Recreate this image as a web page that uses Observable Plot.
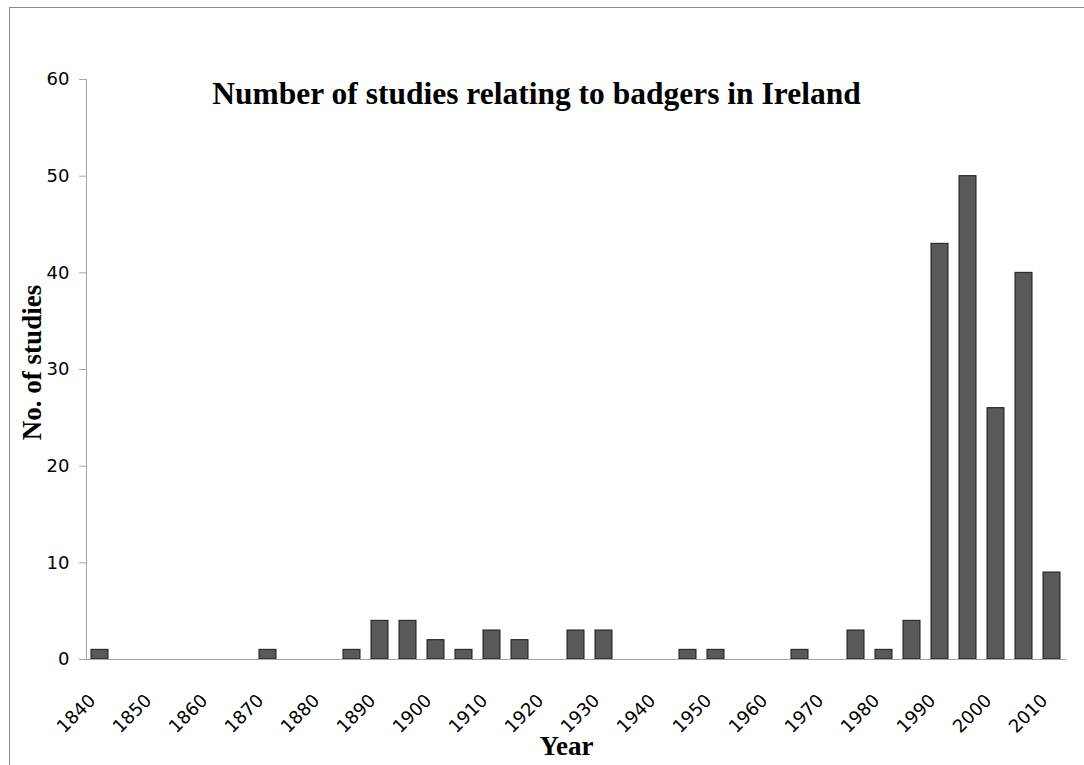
<!DOCTYPE html>
<html>
<head>
<meta charset="utf-8">
<script src="https://cdn.jsdelivr.net/npm/d3@7"></script>
<script src="https://cdn.jsdelivr.net/npm/@observablehq/plot@0.6"></script>
<style>
  html, body { margin: 0; padding: 0; background: #fff; }
  #wrap { position: relative; width: 1084px; height: 765px; overflow: hidden; }
  #border { position: absolute; left: 9px; top: 7px; width: 1200px; height: 900px;
            border-left: 1px solid #8c8c8c; border-top: 1px solid #8c8c8c; }
  #chart { position: absolute; left: 0; top: 0; }
</style>
</head>
<body>
<div id="wrap"><div id="border"></div><div id="chart"></div></div>
<script>
// Five-year bins (start year) and number of studies
const years = [1840,1845,1850,1855,1860,1865,1870,1875,1880,1885,1890,1895,1900,1905,1910,1915,1920,1925,1930,1935,1940,1945,1950,1955,1960,1965,1970,1975,1980,1985,1990,1995,2000,2005,2010];
const counts = [1,0,0,0,0,0,1,0,0,1,4,4,2,1,3,2,0,3,3,0,0,1,1,0,0,1,0,3,1,4,43,50,26,40,9];
const xTickLabels = [1840,1850,1860,1870,1880,1890,1900,1910,1920,1930,1940,1950,1960,1970,1980,1990,2000,2010];
const yTicks = [0,10,20,30,40,50,60];
const titleText = "Number of studies relating to badgers in Ireland";
const xLabel = "Year";
const yLabel = "No. of studies";

const data = years.map((y, i) => ({year: y, count: counts[i]}));

const serif = "'Liberation Serif', 'Times New Roman', serif";
const sans = "'DejaVu Sans', sans-serif";

const chart = Plot.plot({
  width: 1084,
  height: 765,
  marginLeft: 86,
  marginRight: 18,
  marginTop: 79,
  marginBottom: 106,
  style: {background: "transparent", overflow: "visible"},
  x: {domain: years, paddingInner: 0.39, paddingOuter: 0.195},
  y: {domain: [0, 60]},
  marks: [
    Plot.barY(data, {
      x: "year", y: "count",
      filter: d => d.count > 0,
      fill: "#595959", stroke: "#1a1a1a", strokeWidth: 1
    }),
    Plot.frame({anchor: "left", stroke: "#a6a6a6"}),
    Plot.ruleY([0], {stroke: "#a6a6a6", insetLeft: -7}),
    Plot.axisY({
      ticks: yTicks, tickSize: 7, tickPadding: 10,
      stroke: "#a6a6a6", fill: "#000",
      fontSize: 18, fontFamily: sans, label: null
    }),
    Plot.axisX({
      ticks: xTickLabels, tickFormat: d => `${d}`,
      tickRotate: -45, tickSize: 0, tickPadding: 38, dx: -7.5,
      fill: "#000", fontSize: 18, fontFamily: sans, label: null
    }),
    Plot.text([titleText], {
      frameAnchor: "top", textAnchor: "middle", dx: -40, dy: 14, lineAnchor: "middle",
      fontFamily: serif, fontWeight: "bold", fontSize: 31.5, fill: "#000"
    }),
    Plot.text([xLabel], {
      frameAnchor: "bottom", textAnchor: "middle", dx: -10, dy: 87, lineAnchor: "middle",
      fontFamily: serif, fontWeight: "bold", fontSize: 27, fill: "#000"
    }),
    Plot.text([yLabel], {
      frameAnchor: "left", textAnchor: "middle", dx: -54, dy: -7, rotate: -90, lineAnchor: "middle",
      fontFamily: serif, fontWeight: "bold", fontSize: 27, fill: "#000"
    })
  ]
});
document.getElementById("chart").appendChild(chart);
</script>
</body>
</html>
